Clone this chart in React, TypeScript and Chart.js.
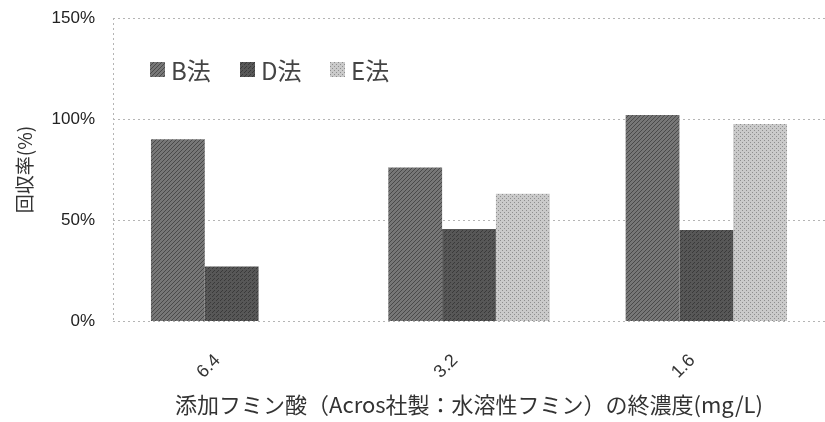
import React, { useEffect, useRef } from "react";
import { Chart, registerables } from "chart.js";

Chart.register(...registerables);

const categories = ["6.4", "3.2", "1.6"];
const seriesNames = ["B法", "D法", "E法"];
const valuesB = [90, 76, 102];
const valuesD = [27, 45.5, 45];
const valuesE = [null, 63, 97.5];
const yTicks = [0, 50, 100, 150];
const yTitle = "回収率(%)";
const xTitle = "添加フミン酸（Acros社製：水溶性フミン）の終濃度(mg/L)";

function makePattern(bg: string, fg: string, kind: string): CanvasPattern | string {
  const c = document.createElement("canvas");
  c.width = 4;
  c.height = 4;
  const g = c.getContext("2d");
  if (!g) return bg;
  g.fillStyle = bg;
  g.fillRect(0, 0, 4, 4);
  g.fillStyle = fg;
  if (kind === "hatch") {
    g.fillRect(0, 3, 1, 1);
    g.fillRect(1, 2, 1, 1);
    g.fillRect(2, 1, 1, 1);
    g.fillRect(3, 0, 1, 1);
  } else if (kind === "dots") {
    g.fillRect(0, 0, 1, 1);
    g.fillRect(2, 2, 1, 1);
  } else {
    g.fillRect(0, 0, 1, 1);
    g.fillRect(2, 2, 1, 1);
    g.fillRect(1, 3, 1, 1);
  }
  const p = g.createPattern(c, "repeat");
  return p || bg;
}

export default function App() {
  const ref = useRef<HTMLCanvasElement | null>(null);

  useEffect(() => {
    document.body.style.margin = "0";
    const canvas = ref.current;
    if (!canvas) return;
    const fills = [
      makePattern("#777777", "#4a4a4a", "hatch"),
      makePattern("#575757", "#3a3a3a", "dots2"),
      makePattern("#cacaca", "#8e8e8e", "dots"),
    ];
    const gridPlugin = {
      id: "dottedGrid",
      beforeDatasetsDraw(chart: any) {
        const ctx = chart.ctx;
        const area = chart.chartArea;
        const ys = chart.scales.y;
        ctx.save();
        ctx.strokeStyle = "#b5b5b5";
        ctx.lineWidth = 1;
        ctx.setLineDash([2, 3]);
        yTicks.forEach((v) => {
          const py = Math.round(ys.getPixelForValue(v)) + 0.5;
          ctx.beginPath();
          ctx.moveTo(area.left, py);
          ctx.lineTo(area.right, py);
          ctx.stroke();
        });
        ctx.beginPath();
        ctx.moveTo(area.left + 0.5, area.top);
        ctx.lineTo(area.left + 0.5, area.bottom);
        ctx.stroke();
        ctx.restore();
      },
    };
    const legendPlugin = {
      id: "innerLegend",
      afterDraw(chart: any) {
        const ctx = chart.ctx;
        const area = chart.chartArea;
        ctx.save();
        ctx.font = "24px 'Noto Sans CJK JP', 'Liberation Sans', sans-serif";
        ctx.textBaseline = "middle";
        const y = area.top + 52;
        chart.data.datasets.forEach((ds: any, i: number) => {
          const x = area.left + 37 + i * 90;
          ctx.fillStyle = fills[i] as any;
          ctx.fillRect(x, y - 8, 15, 15);
          ctx.fillStyle = "#444";
          ctx.fillText(ds.label, x + 21, y + 1);
        });
        ctx.restore();
      },
    };
    const chart = new Chart(canvas, {
      type: "bar",
      data: {
        labels: categories,
        datasets: [
          { label: seriesNames[0], data: valuesB, backgroundColor: fills[0] as any },
          { label: seriesNames[1], data: valuesD, backgroundColor: fills[1] as any },
          { label: seriesNames[2], data: valuesE as any, backgroundColor: fills[2] as any },
        ],
      },
      options: {
        animation: false,
        responsive: false,
        layout: { padding: { top: 18, right: 0, left: 0, bottom: 0 } },
        datasets: { bar: { barPercentage: 1, categoryPercentage: 0.68 } },
        plugins: {
          legend: { display: false },
          tooltip: { enabled: false },
        },
        scales: {
          x: {
            grid: { display: false, drawTicks: false },
            border: { display: false },
            ticks: {
              minRotation: 45,
              maxRotation: 45,
              color: "#333",
              labelOffset: -14,
              font: { family: "'Liberation Sans', sans-serif", size: 18 },
              padding: 29,
            },
            title: {
              display: true,
              text: xTitle,
              color: "#333",
              font: { family: "'Noto Sans CJK JP', sans-serif", size: 22 },
              padding: { top: 0, bottom: 4 },
            },
            afterFit(scale: any) {
              scale.height = 101;
              scale.paddingLeft = 0;
              scale.paddingRight = 0;
            },
          },
          y: {
            min: 0,
            max: 150,
            afterBuildTicks(scale: any) {
              scale.ticks = yTicks.map((v) => ({ value: v }));
            },
            grid: { display: false, drawTicks: false },
            border: { display: false },
            ticks: {
              callback: (v: any) => v + "%",
              color: "#222",
              padding: 18,
              font: { family: "'Liberation Sans', sans-serif", size: 17 },
            },
            title: {
              display: true,
              text: yTitle,
              color: "#333",
              font: { family: "'Noto Sans CJK JP', sans-serif", size: 19 },
              padding: { top: 13, bottom: 0 },
            },
            afterFit(scale: any) {
              scale.width = 113;
              scale.paddingTop = 0;
              scale.paddingBottom = 0;
            },
          },
        },
      },
      plugins: [gridPlugin, legendPlugin],
    } as any);
    return () => chart.destroy();
  }, []);

  return (
    <div style={{ width: 825, height: 422 }}>
      <canvas ref={ref} width={825} height={422} style={{ display: "block" }} />
    </div>
  );
}
